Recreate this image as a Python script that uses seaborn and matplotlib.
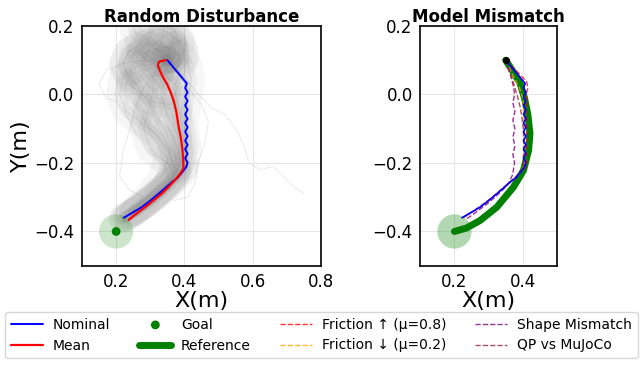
import numpy as np
import pandas as pd
import matplotlib
matplotlib.use("Agg")
import matplotlib.pyplot as plt
import seaborn as sns

# goal and start
goal_x, goal_y = 0.20, -0.40
goal_tol = 0.05
start_x, start_y = 0.35, 0.10

# nominal trajectory (same on both panels)
nom_x = [0.350, 0.407, 0.402, 0.409, 0.402, 0.409, 0.402, 0.409, 0.402, 0.409, 0.402,
         0.409, 0.402, 0.409, 0.402, 0.409, 0.402, 0.409, 0.402, 0.409, 0.405,
         0.395, 0.380, 0.363, 0.345, 0.324, 0.300, 0.275, 0.248, 0.222]
nom_y = [0.100, 0.032, 0.019, 0.006, -0.006, -0.019, -0.032, -0.045, -0.058, -0.071, -0.083,
         -0.096, -0.109, -0.122, -0.135, -0.147, -0.160, -0.173, -0.186, -0.199, -0.212,
         -0.225, -0.243, -0.256, -0.272, -0.290, -0.310, -0.329, -0.345, -0.360]

# mean of disturbed runs
mean_x = [0.345, 0.335, 0.325, 0.322, 0.327, 0.333, 0.340, 0.349, 0.358, 0.368, 0.376, 0.383,
          0.389, 0.393, 0.396, 0.397, 0.385, 0.370, 0.355, 0.335, 0.310, 0.290, 0.270, 0.250, 0.237]
mean_y = [0.100, 0.098, 0.095, 0.085, 0.072, 0.058, 0.045, 0.030, 0.010, -0.017, -0.050, -0.095,
          -0.125, -0.153, -0.185, -0.216, -0.235, -0.252, -0.268, -0.288, -0.309, -0.325, -0.340,
          -0.355, -0.366]

# disturbed runs that stay in the main bundle
runs = [
    ([0.35, 0.32, 0.29, 0.27, 0.30, 0.33, 0.36, 0.38, 0.39, 0.40, 0.36, 0.30, 0.24],
     [0.10, 0.13, 0.15, 0.12, 0.08, 0.04, 0.00, -0.06, -0.14, -0.21, -0.26, -0.31, -0.35]),
    ([0.35, 0.37, 0.36, 0.32, 0.28, 0.25, 0.24, 0.27, 0.31, 0.34, 0.37, 0.38, 0.34, 0.28, 0.23],
     [0.10, 0.14, 0.18, 0.19, 0.17, 0.12, 0.06, 0.01, -0.04, -0.10, -0.17, -0.22, -0.27, -0.32, -0.36]),
    ([0.35, 0.39, 0.41, 0.42, 0.41, 0.40, 0.41, 0.40, 0.35, 0.29, 0.23],
     [0.10, 0.12, 0.09, 0.04, -0.02, -0.09, -0.16, -0.22, -0.27, -0.32, -0.355]),
    ([0.35, 0.31, 0.26, 0.22, 0.21, 0.23, 0.27, 0.32, 0.36, 0.38, 0.33, 0.27, 0.22],
     [0.10, 0.09, 0.08, 0.05, 0.00, -0.05, -0.08, -0.12, -0.18, -0.23, -0.28, -0.33, -0.36]),
    ([0.35, 0.33, 0.34, 0.37, 0.39, 0.38, 0.35, 0.33, 0.35, 0.38, 0.39, 0.36, 0.31, 0.25],
     [0.10, 0.15, 0.20, 0.19, 0.15, 0.10, 0.06, 0.00, -0.06, -0.12, -0.20, -0.25, -0.30, -0.345]),
    ([0.35, 0.30, 0.26, 0.23, 0.22, 0.25, 0.28, 0.31, 0.30, 0.28, 0.30, 0.35, 0.37, 0.32, 0.26, 0.22],
     [0.10, 0.11, 0.14, 0.12, 0.08, 0.04, 0.06, 0.03, -0.03, -0.10, -0.16, -0.20, -0.24, -0.29, -0.34, -0.365]),
    ([0.35, 0.29, 0.25, 0.27, 0.31, 0.35, 0.37, 0.34, 0.38, 0.36, 0.30, 0.24],
     [0.10, 0.16, 0.19, 0.16, 0.13, 0.14, 0.11, 0.06, 0.02, -0.03, -0.02, 0.03]),
    ([0.35, 0.37, 0.40, 0.38, 0.34, 0.30, 0.27, 0.31, 0.36, 0.40],
     [0.10, 0.17, 0.13, 0.08, 0.12, 0.17, 0.13, 0.10, 0.08, 0.10]),
    ([0.35, 0.32, 0.30, 0.33, 0.36, 0.34, 0.31, 0.28, 0.30, 0.34, 0.37],
     [0.10, 0.07, 0.11, 0.15, 0.12, 0.09, 0.05, 0.09, 0.14, 0.17, 0.15]),
    ([0.35, 0.38, 0.36, 0.33, 0.35, 0.39, 0.40, 0.37, 0.39, 0.40, 0.38],
     [0.10, 0.08, 0.04, 0.07, 0.13, 0.16, 0.11, 0.02, -0.08, -0.15, -0.22]),
    ([0.35, 0.31, 0.27, 0.24, 0.22, 0.24, 0.28, 0.26, 0.29, 0.33, 0.35, 0.33, 0.29, 0.25],
     [0.10, 0.12, 0.10, 0.13, 0.09, 0.04, 0.02, -0.04, -0.09, -0.13, -0.19, -0.25, -0.30, -0.34]),
]

# runs that wander off the bundle
stray_runs = [
    ([0.35, 0.30, 0.26, 0.24, 0.22, 0.21, 0.24, 0.28, 0.25, 0.22],
     [0.10, 0.05, -0.02, -0.10, -0.17, -0.24, -0.28, -0.30, -0.34, -0.37]),
    ([0.35, 0.40, 0.44, 0.48, 0.52, 0.55, 0.57, 0.59, 0.62, 0.66, 0.69, 0.72, 0.75],
     [0.10, 0.05, 0.00, -0.04, -0.06, -0.10, -0.14, -0.20, -0.22, -0.21, -0.24, -0.27, -0.29]),
    ([0.35, 0.41, 0.45, 0.47, 0.46, 0.44, 0.43, 0.41, 0.37],
     [0.10, 0.02, -0.03, -0.08, -0.14, -0.20, -0.26, -0.30, -0.31]),
    ([0.35, 0.28, 0.22, 0.17, 0.15, 0.17, 0.20, 0.23, 0.26, 0.30, 0.35, 0.38],
     [0.10, 0.10, 0.09, 0.07, 0.03, -0.01, -0.02, -0.06, -0.12, -0.17, -0.20, -0.22]),
]

# model mismatch panel
ref_x = [0.350, 0.372, 0.392, 0.405, 0.415, 0.421, 0.417, 0.402, 0.373, 0.324, 0.275, 0.235, 0.200]
ref_y = [0.100, 0.066, 0.032, -0.010, -0.060, -0.114, -0.163, -0.222, -0.270, -0.329, -0.368, -0.390, -0.400]

fup_x = [0.350, 0.380, 0.411, 0.415, 0.409, 0.415, 0.409, 0.415, 0.409, 0.415, 0.409, 0.415, 0.409,
         0.415, 0.410, 0.395, 0.380, 0.363, 0.345, 0.324, 0.300, 0.275, 0.248, 0.225]
fup_y = [0.100, 0.070, 0.038, 0.018, -0.002, -0.022, -0.042, -0.062, -0.082, -0.102, -0.122, -0.142,
         -0.162, -0.182, -0.210, -0.226, -0.244, -0.257, -0.273, -0.291, -0.311, -0.330, -0.346, -0.360]
fdn_x = [0.350, 0.373, 0.390, 0.400, 0.404, 0.405, 0.405, 0.395, 0.378, 0.360, 0.340, 0.318, 0.295, 0.270, 0.245, 0.225]
fdn_y = [0.100, 0.051, 0.020, -0.010, -0.060, -0.130, -0.205, -0.226, -0.245, -0.259, -0.276, -0.295, -0.314, -0.332, -0.347, -0.360]
shape_x = [0.350, 0.366, 0.373, 0.376, 0.371, 0.377, 0.371, 0.377, 0.371, 0.377, 0.371, 0.376, 0.370,
           0.360, 0.345, 0.324, 0.300, 0.275, 0.255, 0.236]
shape_y = [0.100, 0.050, 0.022, 0.000, -0.025, -0.050, -0.075, -0.100, -0.125, -0.150, -0.175, -0.200,
           -0.235, -0.256, -0.275, -0.295, -0.316, -0.335, -0.350, -0.363]
qp_x = [0.350, 0.362, 0.373, 0.383, 0.392, 0.398, 0.402, 0.403, 0.400, 0.385, 0.365, 0.345, 0.322, 0.298, 0.272, 0.248, 0.228]
qp_y = [0.100, 0.065, 0.032, 0.000, -0.036, -0.070, -0.105, -0.160, -0.215, -0.235, -0.253, -0.270, -0.290, -0.310, -0.329, -0.345, -0.358]

sns.set_style("whitegrid", {"axes.edgecolor": "black", "grid.color": "#e6e6e6"})
plt.rcParams['font.family'] = ['DejaVu Sans']
plt.rcParams.update({'text.color': 'black', 'axes.labelcolor': 'black',
                     'xtick.color': 'black', 'ytick.color': 'black',
                     'axes.unicode_minus': True})

fig = plt.figure(figsize=(6.43, 3.65), dpi=100)
ax1 = fig.add_axes([0.1275, 0.272, 0.372, 0.657])
ax2 = fig.add_axes([0.6536, 0.272, 0.2126, 0.657])

# left panel: cloud of disturbed runs, drawn as wide faint strokes plus thin traces
for rx, ry in runs:
    ax1.plot(rx, ry, color='gray', lw=20, alpha=0.07, solid_joinstyle='round',
             solid_capstyle='round', zorder=1)
    ax1.plot(rx, ry, color='gray', lw=8, alpha=0.09, solid_joinstyle='round',
             solid_capstyle='round', zorder=1)
for rx, ry in runs + stray_runs:
    sns.lineplot(x=rx, y=ry, sort=False, estimator=None, color='gray', lw=0.6, alpha=0.2, ax=ax1)

sns.lineplot(x=nom_x, y=nom_y, sort=False, estimator=None, color='blue', lw=1.4, label='Nominal', ax=ax1)
sns.lineplot(x=mean_x, y=mean_y, sort=False, estimator=None, color='red', lw=1.6, label='Mean', ax=ax1)
ax1.add_patch(plt.Circle((goal_x, goal_y), goal_tol, color='green', alpha=0.2, lw=0))
sns.scatterplot(x=[goal_x], y=[goal_y], color='green', s=40, edgecolor='none', label='Goal', ax=ax1, zorder=5)

# right panel
ax2.add_patch(plt.Circle((goal_x, goal_y), goal_tol, color='green', alpha=0.3, lw=0))
sns.lineplot(x=ref_x, y=ref_y, sort=False, estimator=None, color='green', lw=5, label='Reference',
             ax=ax2, solid_capstyle='round')
sns.lineplot(x=fup_x, y=fup_y, sort=False, estimator=None, color='red', lw=1, ls='--', alpha=0.8,
             label='Friction ↑ (μ=0.8)', ax=ax2)
sns.lineplot(x=fdn_x, y=fdn_y, sort=False, estimator=None, color='orange', lw=1, ls='--', alpha=0.8,
             label='Friction ↓ (μ=0.2)', ax=ax2)
sns.lineplot(x=shape_x, y=shape_y, sort=False, estimator=None, color='purple', lw=1, ls='--', alpha=0.8,
             label='Shape Mismatch', ax=ax2)
sns.lineplot(x=qp_x, y=qp_y, sort=False, estimator=None, color='#a0203a', lw=1, ls='--', alpha=0.8,
             label='QP vs MuJoCo', ax=ax2)
sns.lineplot(x=nom_x, y=nom_y, sort=False, estimator=None, color='blue', lw=1.2, ax=ax2)
ax2.plot([start_x], [start_y], 'o', color='black', ms=4, zorder=6)

ax1.set_xlim(0.1, 0.8)
ax2.set_xlim(0.1, 0.5)
for ax in (ax1, ax2):
    ax.set_ylim(-0.5, 0.2)
    ax.set_xlabel('X(m)', fontsize=16, labelpad=0)
    ax.tick_params(labelsize=12, pad=2)
    for s in ax.spines.values():
        s.set_linewidth(1.2)
    if ax.get_legend() is not None:
        ax.get_legend().remove()
ax1.set_xticks([0.2, 0.4, 0.6, 0.8])
ax2.set_xticks([0.2, 0.4])
ax1.set_yticks([-0.4, -0.2, 0.0, 0.2])
ax2.set_yticks([-0.4, -0.2, 0.0, 0.2])
ax1.set_ylabel('Y(m)', fontsize=16, labelpad=2)
ax1.set_title('Random Disturbance', fontsize=12, fontweight='bold', pad=3)
ax2.set_title('Model Mismatch', fontsize=12, fontweight='bold', pad=3)

h1, l1 = ax1.get_legend_handles_labels()
h2, l2 = ax2.get_legend_handles_labels()
lookup = dict(zip(l1 + l2, h1 + h2))
order = ['Nominal', 'Mean', 'Goal', 'Reference', 'Friction ↑ (μ=0.8)', 'Friction ↓ (μ=0.2)',
         'Shape Mismatch', 'QP vs MuJoCo']
fig.legend([lookup[k] for k in order], order, loc='lower center', bbox_to_anchor=(0.5, 0.0),
           ncol=4, fontsize=10, handlelength=2.3, handletextpad=0.7, columnspacing=2.1,
           frameon=True, edgecolor='#cccccc', fancybox=True)

fig.savefig('out.png', dpi=100)
